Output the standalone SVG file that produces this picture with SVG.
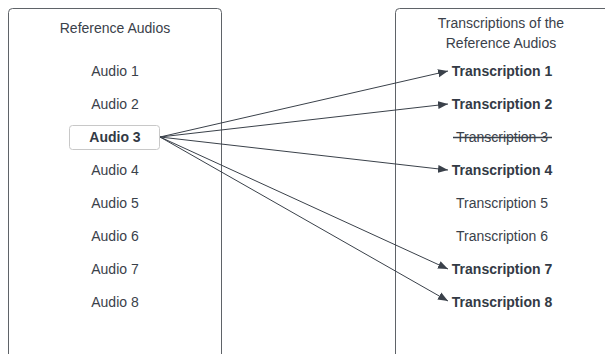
<svg xmlns="http://www.w3.org/2000/svg" width="605" height="354" viewBox="0 0 605 354">
<style>
text{font-family:"Liberation Sans",Arial,sans-serif;font-size:14px;fill:#3a414a;text-anchor:middle;dominant-baseline:central}
.b{font-weight:bold;fill:#333a45}
.panel{fill:#fff;stroke:#5f6368;stroke-width:1}
.conn{stroke:#3a414a;stroke-width:1;fill:none;marker-end:url(#ah)}
</style>
<defs>
<marker id="ah" viewBox="0 0 10 10" refX="10" refY="5" markerWidth="10" markerHeight="10" markerUnits="userSpaceOnUse" orient="auto">
<path d="M0,1 L10,5 L0,9 Z" fill="#3a414a"/>
</marker>
</defs>
<rect width="605" height="354" fill="#fff"/>
<g id="left-panel">
<rect class="panel" x="8.5" y="8.5" width="213" height="360" rx="4"/>
<text x="115" y="28">Reference Audios</text>
</g>
<g id="audio1"><text x="115" y="71">Audio 1</text></g>
<g id="audio2"><text x="115" y="104">Audio 2</text></g>
<g id="audio3">
<rect x="69.5" y="125.5" width="90" height="24" rx="3" fill="#fff" stroke="#c8c8c8"/>
<text class="b" x="115" y="137">Audio 3</text>
</g>
<g id="audio4"><text x="115" y="170">Audio 4</text></g>
<g id="audio5"><text x="115" y="203">Audio 5</text></g>
<g id="audio6"><text x="115" y="236">Audio 6</text></g>
<g id="audio7"><text x="115" y="269">Audio 7</text></g>
<g id="audio8"><text x="115" y="302">Audio 8</text></g>
<g id="right-panel">
<rect class="panel" x="395.5" y="8.5" width="240" height="360" rx="4"/>
<text x="501" y="23">Transcriptions of the</text>
<text x="501" y="43">Reference Audios</text>
</g>
<g id="t1"><text class="b" x="502" y="71">Transcription 1</text></g>
<g id="t2"><text class="b" x="502" y="104">Transcription 2</text></g>
<g id="t3"><text x="502" y="137">Transcription 3</text><line x1="453" y1="137.5" x2="552" y2="137.5" stroke="#3a414a" stroke-width="1.3"/></g>
<g id="t4"><text class="b" x="502" y="170">Transcription 4</text></g>
<g id="t5"><text x="502" y="203">Transcription 5</text></g>
<g id="t6"><text x="502" y="236">Transcription 6</text></g>
<g id="t7"><text class="b" x="502" y="269">Transcription 7</text></g>
<g id="t8"><text class="b" x="502" y="302">Transcription 8</text></g>
<g id="connectors">
<line class="conn" x1="160" y1="137" x2="448" y2="71"/>
<line class="conn" x1="160" y1="137" x2="448" y2="104"/>
<line class="conn" x1="160" y1="137" x2="448" y2="170"/>
<line class="conn" x1="160" y1="137" x2="448" y2="269"/>
<line class="conn" x1="160" y1="137" x2="448" y2="301"/>
</g>
</svg>
